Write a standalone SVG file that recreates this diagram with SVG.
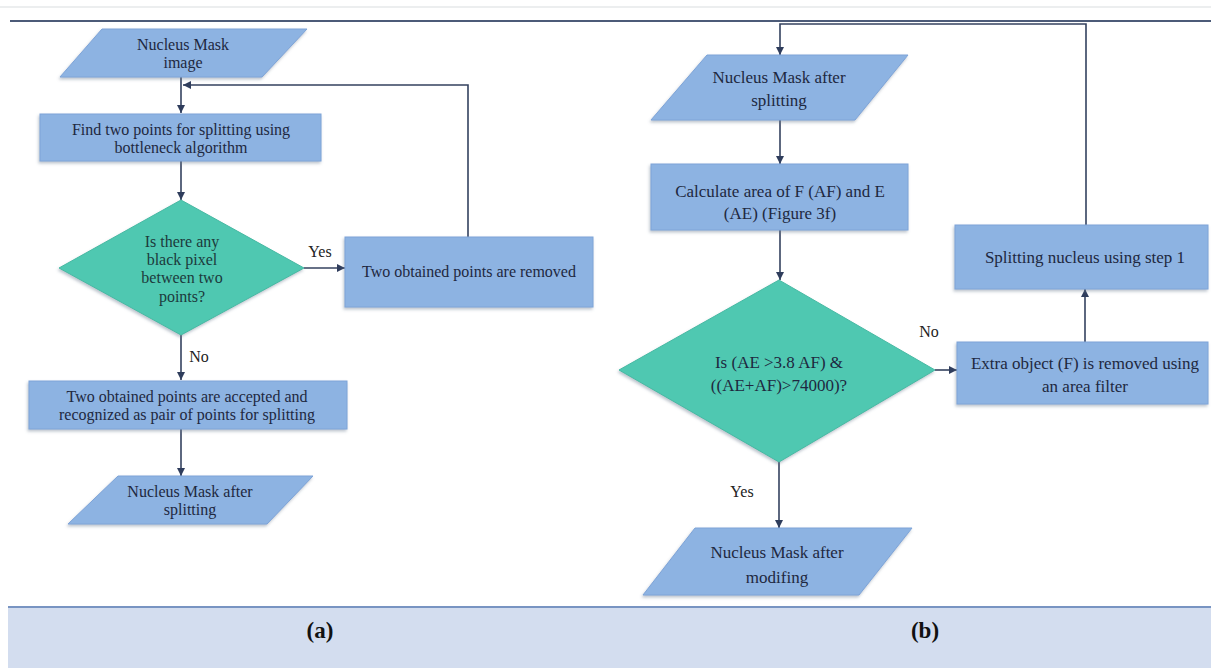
<svg xmlns="http://www.w3.org/2000/svg" width="1211" height="668" viewBox="0 0 1211 668">
<defs>
<marker id="ah" viewBox="0 0 10 10" refX="10" refY="5" markerWidth="8" markerHeight="8" markerUnits="userSpaceOnUse" orient="auto">
<path d="M0,0 L10,5 L0,10 z" fill="#2f3d5c"/>
</marker>
<filter id="sh" x="-10%" y="-10%" width="120%" height="130%">
<feDropShadow dx="-1" dy="2" stdDeviation="1.5" flood-color="#6b7a90" flood-opacity="0.45"/>
</filter>
<style>
.box{fill:#8db3e2;stroke:#7ea4d8;stroke-width:1;filter:url(#sh)}
.dia{fill:#4fc8b1;stroke:#47b9a3;stroke-width:1;filter:url(#sh)}
.t{font-family:"Liberation Serif","Times New Roman",serif;font-size:16px;fill:#1e2840;text-anchor:middle}
.tr{font-family:"Liberation Serif","Times New Roman",serif;font-size:17px;fill:#1e2840;text-anchor:middle}
.td{font-family:"Liberation Serif","Times New Roman",serif;font-size:16px;fill:#1c3a3c;text-anchor:middle}
.lbl{font-family:"Liberation Serif","Times New Roman",serif;font-size:16px;fill:#222;text-anchor:middle}
.c{fill:none;stroke:#34425f;stroke-width:1.6}
.cap{font-family:"Liberation Serif","Times New Roman",serif;font-size:23px;font-weight:bold;fill:#111;text-anchor:middle}
</style>
</defs>
<rect x="0" y="0" width="1211" height="668" fill="#ffffff"/>
<line x1="0" y1="7" x2="1211" y2="7" stroke="#e6e8ea" stroke-width="1.5"/>
<line x1="10" y1="21" x2="1211" y2="21" stroke="#4c5b78" stroke-width="2"/>
<rect x="8" y="607" width="1203" height="61" fill="#d3ddef"/>
<line x1="8" y1="607" x2="1211" y2="607" stroke="#7894c2" stroke-width="2"/>
<text class="cap" x="320" y="638">(a)</text>
<text class="cap" x="925" y="638">(b)</text>

<g id="connectors">
<path class="c" d="M181,77 V113" marker-end="url(#ah)"/>
<path class="c" d="M181,161 V200" marker-end="url(#ah)"/>
<path class="c" d="M304,268 H345" marker-end="url(#ah)"/>
<path class="c" d="M468,237 V85 H183" marker-end="url(#ah)"/>
<path class="c" d="M181,335 V380" marker-end="url(#ah)"/>
<path class="c" d="M181,429 V476" marker-end="url(#ah)"/>
<path class="c" d="M1086,225 V24 H780 V55" marker-end="url(#ah)"/>
<path class="c" d="M780,120 V164" marker-end="url(#ah)"/>
<path class="c" d="M780,230 V280" marker-end="url(#ah)"/>
<path class="c" d="M935,370 H957" marker-end="url(#ah)"/>
<path class="c" d="M1085,342 V289" marker-end="url(#ah)"/>
<path class="c" d="M779,462 V528" marker-end="url(#ah)"/>
<text class="lbl" x="320" y="257">Yes</text>
<text class="lbl" x="199" y="362">No</text>
<text class="lbl" x="929" y="337">No</text>
<text class="lbl" x="742" y="497">Yes</text>
</g>

<g id="a_input">
<polygon class="box" points="102,29 307,29 262,77 60,77"/>
<text class="t" x="183" y="50">Nucleus Mask</text>
<text class="t" x="183" y="68">image</text>
</g>
<g id="a_find">
<rect class="box" x="40" y="114" width="281" height="47"/>
<text class="t" x="181" y="135">Find two points for splitting using</text>
<text class="t" x="181" y="153">bottleneck algorithm</text>
</g>
<g id="a_decision">
<polygon class="dia" points="181,200 304,268 181,335 59,268"/>
<text class="td" x="182" y="247">Is there any</text>
<text class="td" x="182" y="265">black pixel</text>
<text class="td" x="182" y="283">between two</text>
<text class="td" x="182" y="302">points?</text>
</g>
<g id="a_removed">
<rect class="box" x="345" y="237" width="248" height="70"/>
<text class="t" x="469" y="277">Two obtained points are removed</text>
</g>
<g id="a_accepted">
<rect class="box" x="29" y="381" width="318" height="48"/>
<text class="t" x="187" y="402">Two obtained points are accepted and</text>
<text class="t" x="187" y="420">recognized as pair of points for splitting</text>
</g>
<g id="a_output">
<polygon class="box" points="118,476 313,476 267,524 68,524"/>
<text class="t" x="190" y="497">Nucleus Mask after</text>
<text class="t" x="190" y="515">splitting</text>
</g>

<g id="b_input">
<polygon class="box" points="707,55 908,55 855,120 651,120"/>
<text class="tr" x="779" y="83">Nucleus Mask after</text>
<text class="tr" x="779" y="106">splitting</text>
</g>
<g id="b_calc">
<rect class="box" x="651" y="164" width="257" height="66"/>
<text class="tr" x="780" y="197">Calculate area of F (AF) and E</text>
<text class="tr" x="780" y="219">(AE) (Figure 3f)</text>
</g>
<g id="b_decision">
<polygon class="dia" points="779,280 935,370 779,462 619,370"/>
<text class="tr" x="779" y="368">Is (AE &gt;3.8 AF) &amp;</text>
<text class="tr" x="779" y="391">((AE+AF)&gt;74000)?</text>
</g>
<g id="b_extra">
<rect class="box" x="957" y="342" width="251" height="62"/>
<text class="tr" x="1085" y="369">Extra object (F) is removed using</text>
<text class="tr" x="1085" y="392">an area filter</text>
</g>
<g id="b_split">
<rect class="box" x="955" y="225" width="253" height="64"/>
<text class="tr" x="1085" y="263">Splitting  nucleus using step 1</text>
</g>
<g id="b_output">
<polygon class="box" points="695,528 912,528 859,595 643,595"/>
<text class="tr" x="777" y="558">Nucleus Mask after</text>
<text class="tr" x="777" y="583">modifing</text>
</g>
</svg>
